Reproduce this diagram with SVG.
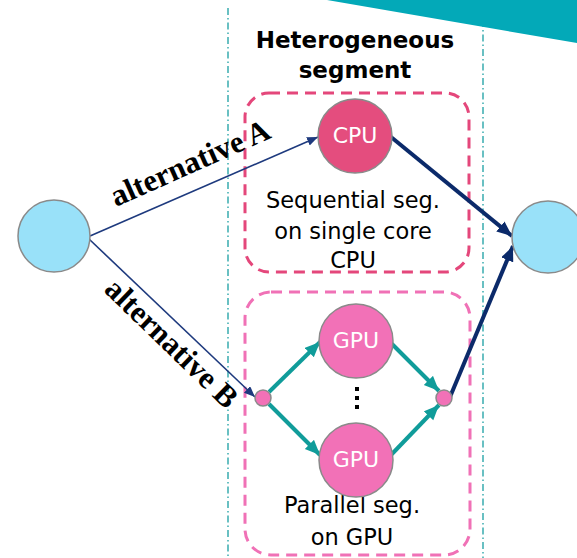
<svg xmlns="http://www.w3.org/2000/svg" width="577" height="558" viewBox="0 0 577 558">
<style>
.sans{font-family:"DejaVu Sans","Liberation Sans",sans-serif;}
.title{font-size:23px;font-weight:bold;fill:#000;text-anchor:middle;}
.body{font-size:22.5px;fill:#000;text-anchor:middle;}
.inner{font-size:22px;fill:#fff;text-anchor:middle;}
.alt{font-family:"Liberation Serif","DejaVu Serif",serif;font-size:31px;font-weight:bold;fill:#000;}
.guide{stroke:#1a9fa3;stroke-width:1.3;stroke-dasharray:7 3 1.5 3;fill:none;}
.node{stroke:#8a8a8a;stroke-width:1.5;}
.thin{stroke:#1e3a7e;stroke-width:1.6;fill:none;}
.thick{stroke:#0b2a6a;stroke-width:4;fill:none;}
.teal{stroke:#109c9a;stroke-width:4;fill:none;}
</style>
<defs>
<marker id="mThin" markerUnits="userSpaceOnUse" markerWidth="12" markerHeight="10" refX="11" refY="4.5" orient="auto"><path d="M0,0 L11,4.5 L0,9 Z" fill="#1e3a7e"/></marker>
<marker id="mThick" markerUnits="userSpaceOnUse" markerWidth="16" markerHeight="14" refX="15" refY="6.5" orient="auto"><path d="M0,0 L15,6.5 L0,13 Z" fill="#0b2a6a"/></marker>
<marker id="mTeal" markerUnits="userSpaceOnUse" markerWidth="16" markerHeight="14" refX="15" refY="6.5" orient="auto"><path d="M0,0 L15,6.5 L0,13 Z" fill="#109c9a"/></marker>
</defs>
<rect width="577" height="558" fill="#fff"/>
<line class="guide" x1="228" y1="8" x2="228" y2="558"/>
<line class="guide" x1="483" y1="20" x2="483" y2="558"/>
<polygon points="327,0 577,0 577,43" fill="#03a9b8"/>
<g id="title">
<text class="sans title" x="355" y="48">Heterogeneous</text>
<text class="sans title" x="355" y="78">segment</text>
</g>
<g id="seq-segment">
<rect x="245" y="93" width="224" height="179" rx="24" fill="none" stroke="#e4477b" stroke-width="3" stroke-dasharray="11 7"/>
<text class="sans body" x="353" y="208">Sequential seg.</text>
<text class="sans body" x="353" y="239">on single core</text>
<text class="sans body" x="353" y="268">CPU</text>
</g>
<g id="par-segment">
<rect x="245" y="292" width="225" height="263" rx="26" fill="none" stroke="#f071b6" stroke-width="3" stroke-dasharray="11 7"/>
<text class="sans body" x="352" y="513">Parallel seg.</text>
<text class="sans body" x="352" y="545">on GPU</text>
</g>
<g id="connectors">
<line class="thin" x1="90" y1="236" x2="318" y2="137" marker-end="url(#mThin)"/>
<line class="thin" x1="89" y1="239" x2="255" y2="397" marker-end="url(#mThin)"/>
<line class="thick" x1="391" y1="137" x2="512" y2="236" marker-end="url(#mThick)"/>
<line class="thick" x1="450" y1="397" x2="513" y2="246" marker-end="url(#mThick)"/>
<line class="teal" x1="269" y1="392" x2="320" y2="342" marker-end="url(#mTeal)"/>
<line class="teal" x1="269" y1="404" x2="320" y2="455" marker-end="url(#mTeal)"/>
<line class="teal" x1="391" y1="343" x2="439" y2="391" marker-end="url(#mTeal)"/>
<line class="teal" x1="391" y1="455" x2="439" y2="405" marker-end="url(#mTeal)"/>
</g>
<g id="alt-a-label"><text class="alt" transform="translate(116,207) rotate(-24)">alternative A</text></g>
<g id="alt-b-label"><text class="alt" transform="translate(103,291) rotate(44)">alternative B</text></g>
<g id="start"><circle class="node" cx="54" cy="236" r="36" fill="#99e1f9"/></g>
<g id="end"><circle class="node" cx="548" cy="237" r="36" fill="#99e1f9"/></g>
<g id="cpu"><circle class="node" cx="355" cy="136" r="37" fill="#e44d7e"/><text class="sans inner" x="355" y="143">CPU</text></g>
<g id="gpu1"><circle class="node" cx="356" cy="341" r="37" fill="#f271b7"/><text class="sans inner" x="356" y="348">GPU</text></g>
<g id="gpu2"><circle class="node" cx="356" cy="460" r="37" fill="#f271b7"/><text class="sans inner" x="356" y="467">GPU</text></g>
<g id="fork"><circle class="node" cx="263" cy="398" r="8" fill="#f271b7"/></g>
<g id="join"><circle class="node" cx="444" cy="398" r="8" fill="#f271b7"/></g>
<g id="ellipsis" fill="#000">
<rect x="355" y="387" width="4" height="4"/>
<rect x="355" y="396" width="4" height="4"/>
<rect x="355" y="405" width="4" height="4"/>
</g>
</svg>
